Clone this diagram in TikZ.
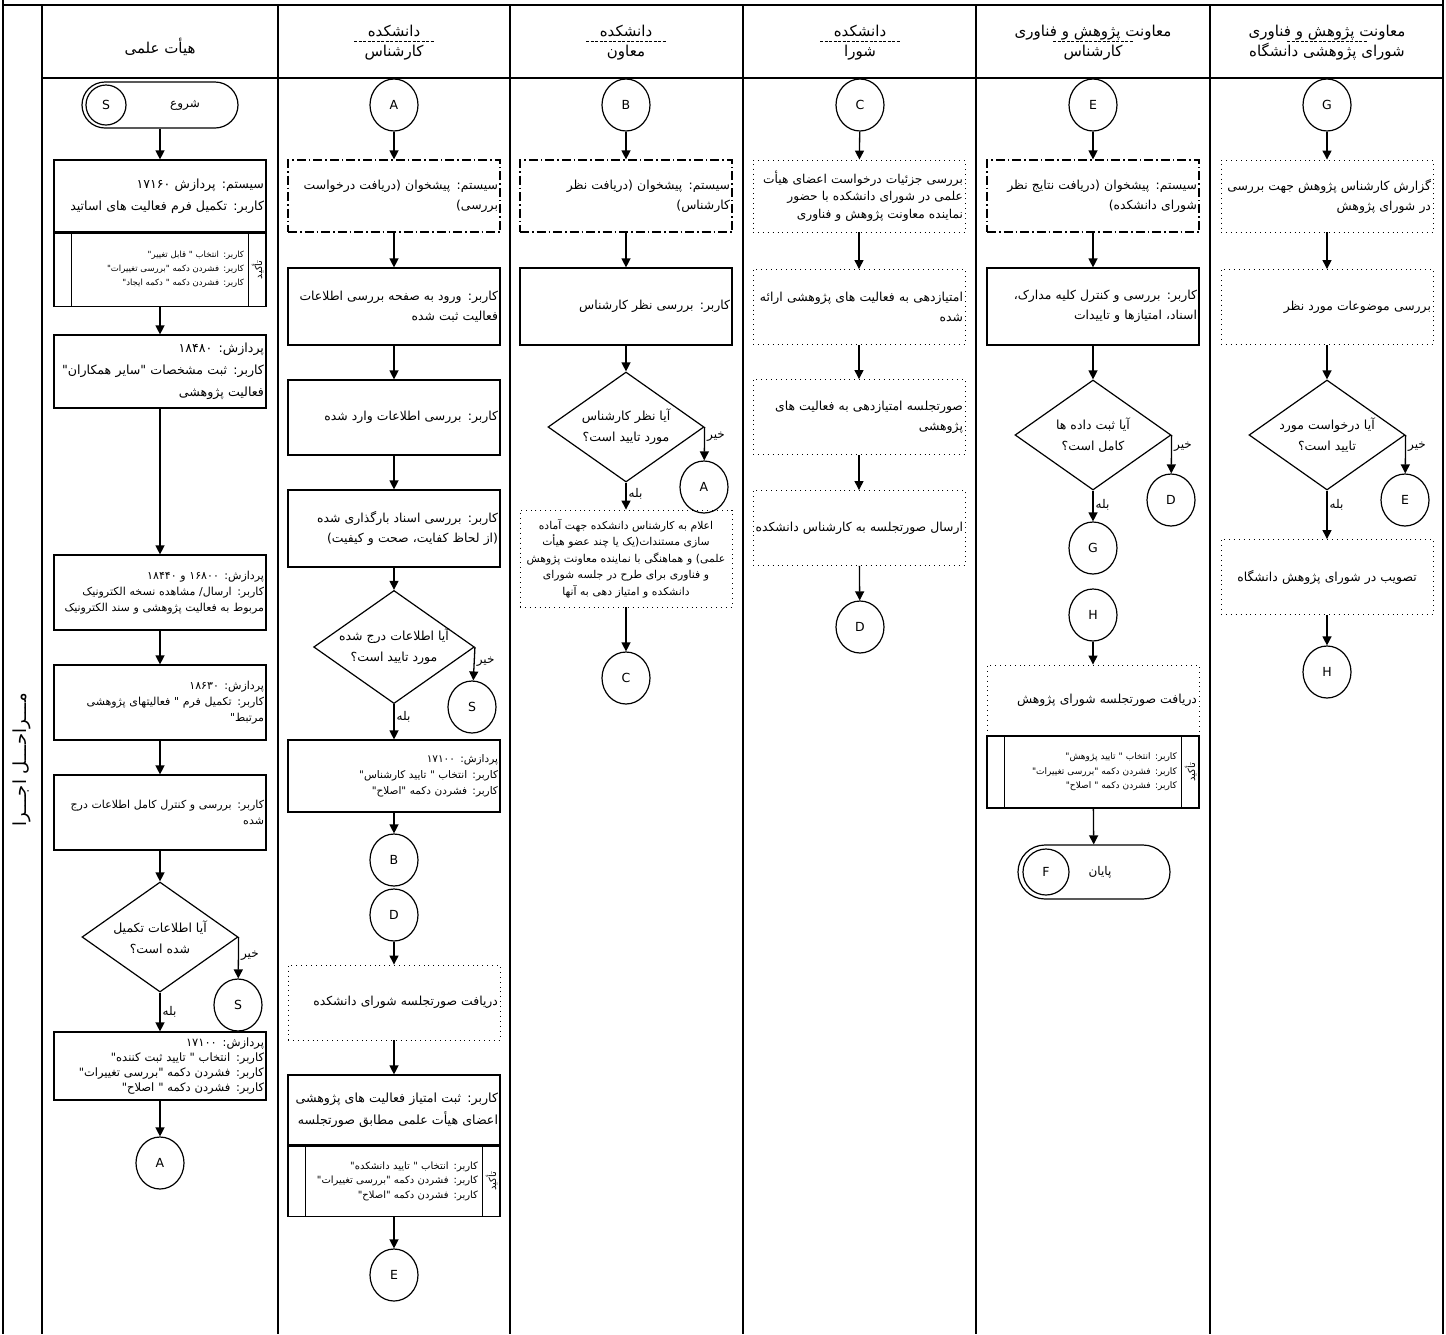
\documentclass[tikz,border=0pt]{standalone}
\usepackage{fontspec}
\setmainfont{DejaVu Sans}
\newfontfamily\fafont[Script=Arabic]{DejaVu Sans}
\TeXXeTstate=1
\usetikzlibrary{shapes.geometric,arrows.meta,positioning}

\newcommand{\fa}[1]{\beginR #1\endR}
\newcommand{\fsBig}{\fafont\fontsize{12.6}{22}\selectfont}
\newcommand{\fsMid}{\fafont\fontsize{12.4}{20}\selectfont}
\newcommand{\fsSmall}{\fafont\fontsize{11}{16}\selectfont}
\newcommand{\fsTiny}{\fafont\fontsize{9}{14.5}\selectfont}

\tikzset{
    lane/.style={line width=1.4pt},
    box/.style={rectangle, draw, line width=1.2pt, minimum width=212pt, text width=208pt, align=right, inner sep=2pt, font=\fsMid},
    sysbox/.style={box, dash pattern=on 9pt off 3pt on 1.5pt off 3pt},
    note/.style={box, line width=0.9pt, dash pattern=on 0.9pt off 4pt},
    taskbox/.style={box, text width=168pt, font=\fsTiny},
    decision/.style={diamond, draw, line width=1.2pt, aspect=1.42, inner sep=0pt, minimum width=156pt, minimum height=110pt, align=center, font=\fafont\fontsize{12.5}{21}\selectfont},
    conn/.style={ellipse, draw, line width=1.2pt, minimum width=48pt, minimum height=52pt, inner sep=0pt, font=\fontsize{12.5}{14}\selectfont},
    term/.style={rectangle, rounded corners=23pt, draw, line width=1.2pt, minimum width=156pt, minimum height=46pt},
    termc/.style={circle, draw, line width=1.2pt, minimum size=40pt, inner sep=0pt, font=\fontsize{12.5}{14}\selectfont},
    flow/.style={-{Triangle[length=9pt,width=9pt]}, line width=1.3pt},
    yesno/.style={font=\fafont\fontsize{12}{14}\selectfont, inner sep=2pt},
    emph/.style={font=\fafont\fontsize{10}{12}\selectfont, inner sep=0pt, rotate=90},
    head/.style={align=center, font=\fafont\fontsize{15}{20}\selectfont},
}
\newcommand{\taskcols}[1]{%
    \draw[line width=1.2pt] ([xshift=18pt]#1.north west) -- ([xshift=18pt]#1.south west);
    \draw[line width=1.2pt] ([xshift=-18pt]#1.north east) -- ([xshift=-18pt]#1.south east);
    \node[emph] (#1e) at ([xshift=-9pt]#1.east) {\fa{تأکید}};}

\begin{document}
\begin{tikzpicture}[x=1pt, y=-1pt]
    \useasboundingbox (0,0) rectangle (1446,1334);

    % Frame and lanes
    \foreach \x in {3,1443} {
        \draw[lane] (\x,0) -- (\x,1334);
    }
    \foreach \x in {42,278,510,743,976,1210} {
        \draw[lane] (\x,5) -- (\x,1334);
    }
    \draw[lane] (3,5) -- (1443,5);
    \draw[lane] (42,78) -- (1443,78);
    \node[rotate=90, font=\fafont\fontsize{18}{20}\selectfont] (steps) at (22,760) {\fa{مـــراحـــل اجـــرا}};

    % Headers
    \node[head] (h1) at (160,47) {\fa{هیأت علمی}};
    \node[head] (h2) at (394,43) {\fa{دانشکده}\\\fa{کارشناس}};
    \node[head] (h3) at (626,43) {\fa{دانشکده}\\\fa{معاون}};
    \node[head] (h4) at (860,43) {\fa{دانشکده}\\\fa{شورا}};
    \node[head] (h5) at (1093,43) {\fa{معاونت پژوهش و فناوری}\\\fa{کارشناس}};
    \node[head] (h6) at (1327,43) {\fa{معاونت پژوهش و فناوری}\\\fa{شورای پژوهشی دانشگاه}};
    \foreach \x in {394,626,860,1093,1327} {
        \draw[line width=0.6pt, dash pattern=on 3pt off 1.5pt] (\x-40,41) -- (\x+40,41);
    }

    % Lane 1
    \node[term] (st) at (160,105) {};
    \node[termc] (stc) at (106,105) {S};
    \node[font=\fafont\fontsize{12}{14}\selectfont] (stt) at (185,105) {\fa{شروع}};
    \node[box, font=\fsBig, minimum height=72pt] (p1) at (160,196) {\fa{سیستم: پردازش ۱۷۱۶۰}\\\fa{کاربر: تکمیل فرم فعالیت های اساتید}};
    \node[taskbox, font=\fafont\fontsize{8.5}{14}\selectfont, minimum height=73pt, anchor=north] (p1t) at (p1.south) {\fa{کاربر: انتخاب " قابل تغییر"}\\\fa{کاربر: فشردن دکمه "بررسی تغییرات"}\\\fa{کاربر: فشردن دکمه " دکمه ایجاد"}};
    \taskcols{p1t}
    \node[box, font=\fsBig, minimum height=73pt] (p2) at (160,371.5) {\fa{پردازش: ۱۸۴۸۰}\\\fa{کاربر: ثبت مشخصات "سایر همکاران"}\\\fa{فعالیت پژوهشی}};
    \node[box, font=\fsSmall, minimum height=75pt] (p3) at (160,592.5) {\fa{پردازش: ۱۶۸۰۰ و ۱۸۴۴۰}\\\fa{کاربر: ارسال/ مشاهده نسخه الکترونیک}\\\fa{مربوط به فعالیت پژوهشی و سند الکترونیک}};
    \node[box, font=\fsSmall, minimum height=75pt] (p4) at (160,702.5) {\fa{پردازش: ۱۸۶۳۰}\\\fa{کاربر: تکمیل فرم " فعالیتهای پژوهشی}\\\fa{مرتبط"}};
    \node[box, font=\fsSmall, minimum height=75pt] (p5) at (160,812.5) {\fa{کاربر: بررسی و کنترل کامل اطلاعات درج}\\\fa{شده}};
    \node[decision] (d1) at (160,937) {\fa{آیا اطلاعات تکمیل}\\\fa{شده است؟}};
    \node[conn] (s2) at (238,1005) {S};
    \node[box, font=\fafont\fontsize{11.5}{15}\selectfont, minimum height=68pt] (p6) at (160,1066) {\fa{پردازش: ۱۷۱۰۰}\\\fa{کاربر: انتخاب " تایید ثبت کننده"}\\\fa{کاربر: فشردن دکمه "بررسی تغییرات"}\\\fa{کاربر: فشردن دکمه " اصلاح"}};
    \node[conn] (a1) at (160,1163) {A};
    \draw[flow] (st) -- (p1);
    \draw[flow] (p1t) -- (p2);
    \draw[flow] (p2) -- (p3);
    \draw[flow] (p3) -- (p4);
    \draw[flow] (p4) -- (p5);
    \draw[flow] (p5) -- (d1);
    \draw[flow] (d1.east) -- (s2) node[yesno, pos=0.45, right] (n1) {\fa{خیر}};
    \draw[flow] (d1) -- (p6) node[yesno, pos=0.5, right] (y1) {\fa{بله}};
    \draw[flow] (p6) -- (a1);

    % Lane 2
    \node[conn] (a2) at (394,105) {A};
    \node[sysbox, minimum height=72pt] (k1) at (394,196) {\fa{سیستم: پیشخوان (دریافت درخواست}\\\fa{بررسی)}};
    \node[box, minimum height=77pt] (k2) at (394,306.5) {\fa{کاربر: ورود به صفحه بررسی اطلاعات}\\\fa{فعالیت ثبت شده}};
    \node[box, minimum height=75pt] (k3) at (394,417.5) {\fa{کاربر: بررسی اطلاعات وارد شده}};
    \node[box, minimum height=77pt] (k4) at (394,528.5) {\fa{کاربر: بررسی اسناد بارگذاری شده}\\\fa{(از لحاظ کفایت، صحت و کیفیت)}};
    \node[decision] (d2) at (394,647) {\fa{آیا اطلاعات درج شده}\\\fa{مورد تایید است؟}};
    \node[conn] (s3) at (472,707) {S};
    \node[box, font=\fafont\fontsize{10.5}{16}\selectfont, minimum height=72pt] (k5) at (394,776) {\fa{پردازش: ۱۷۱۰۰}\\\fa{کاربر: انتخاب " تایید کارشناس"}\\\fa{کاربر: فشردن دکمه "اصلاح"}};
    \node[conn] (b1) at (394,860) {B};
    \node[conn] (dd1) at (394,915) {D};
    \node[note, minimum height=75pt] (k6) at (394,1002.5) {\fa{دریافت صورتجلسه شورای دانشکده}};
    \node[box, font=\fsBig, minimum height=70pt] (k7) at (394,1110) {\fa{کاربر: ثبت امتیاز فعالیت های پژوهشی}\\\fa{اعضای هیأت علمی مطابق صورتجلسه}};
    \node[taskbox, font=\fafont\fontsize{10}{14.5}\selectfont, minimum height=70pt, anchor=north] (k7t) at (k7.south) {\fa{کاربر: انتخاب " تایید دانشکده"}\\\fa{کاربر: فشردن دکمه "بررسی تغییرات"}\\\fa{کاربر: فشردن دکمه "اصلاح"}};
    \taskcols{k7t}
    \node[conn] (e1) at (394,1275) {E};
    \draw[flow] (a2) -- (k1);
    \draw[flow] (k1) -- (k2);
    \draw[flow] (k2) -- (k3);
    \draw[flow] (k3) -- (k4);
    \draw[flow] (k4) -- (d2);
    \draw[flow] (d2.east) -- (s3) node[yesno, pos=0.45, right] (n2) {\fa{خیر}};
    \draw[flow] (d2) -- (k5) node[yesno, pos=0.35, right] (y2) {\fa{بله}};
    \draw[flow] (k5) -- (b1);
    \draw[flow] (dd1) -- (k6);
    \draw[flow] (k6) -- (k7);
    \draw[flow] (k7t) -- (e1);

    % Lane 3
    \node[conn] (b2) at (626,105) {B};
    \node[sysbox, minimum height=72pt] (m1) at (626,196) {\fa{سیستم: پیشخوان (دریافت نظر}\\\fa{کارشناس)}};
    \node[box, minimum height=77pt] (m2) at (626,306.5) {\fa{کاربر: بررسی نظر کارشناس}};
    \node[decision] (d3) at (626,427) {\fa{آیا نظر کارشناس}\\\fa{مورد تایید است؟}};
    \node[conn] (a3) at (704,487) {A};
    \node[note, align=center, font=\fafont\fontsize{10.8}{16.5}\selectfont, minimum height=97pt] (m3) at (626,558.5) {\fa{اعلام به کارشناس دانشکده جهت آماده}\\\fa{سازی مستندات(یک یا چند عضو هیأت}\\\fa{علمی) و هماهنگی با نماینده معاونت پژوهش}\\\fa{و فناوری برای طرح در جلسه شورای}\\\fa{دانشکده و امتیاز دهی به آنها}};
    \node[conn] (c1) at (626,678) {C};
    \draw[flow] (b2) -- (m1);
    \draw[flow] (m1) -- (m2);
    \draw[flow] (m2) -- (d3);
    \draw[flow] (d3.east) -- (a3) node[yesno, pos=0.3, right] (n3) {\fa{خیر}};
    \draw[flow] (d3) -- (m3) node[yesno, pos=0.4, right] (y3) {\fa{بله}};
    \draw[flow] (m3) -- (c1);

    % Lane 4
    \node[conn] (c2) at (860,105) {C};
    \node[note, font=\fafont\fontsize{12.2}{17.5}\selectfont, minimum height=72pt] (r1) at (859,196) {\fa{بررسی جزئیات درخواست اعضای هیأت}\\\fa{علمی در شورای دانشکده با حضور}\\\fa{نماینده معاونت پژوهش و فناوری}};
    \node[note, minimum height=75pt] (r2) at (859,307) {\fa{امتیازدهی به فعالیت های پژوهشی ارائه}\\\fa{شده}};
    \node[note, minimum height=75pt] (r3) at (859,417) {\fa{صورتجلسه امتیازدهی به فعالیت های}\\\fa{پژوهشی}};
    \node[note, minimum height=75pt] (r4) at (859,528) {\fa{ارسال صورتجلسه به کارشناس دانشکده}};
    \node[conn] (dd2) at (860,627) {D};
    \draw[flow] (c2) -- (r1);
    \draw[flow] (r1) -- (r2);
    \draw[flow] (r2) -- (r3);
    \draw[flow] (r3) -- (r4);
    \draw[flow] (r4) -- (dd2);

    % Lane 5
    \node[conn] (e2) at (1093,105) {E};
    \node[sysbox, minimum height=72pt] (v1) at (1093,196) {\fa{سیستم: پیشخوان (دریافت نتایج نظر}\\\fa{شورای دانشکده)}};
    \node[box, minimum height=77pt] (v2) at (1093,306.5) {\fa{کاربر: بررسی و کنترل کلیه مدارک،}\\\fa{اسناد، امتیازها و تاییدات}};
    \node[decision] (d4) at (1093,435) {\fa{آیا ثبت داده ها}\\\fa{کامل است؟}};
    \node[conn] (dd3) at (1171,500) {D};
    \node[conn] (g1) at (1093,548) {G};
    \node[conn] (h7) at (1093,615) {H};
    \node[note, minimum height=70pt] (v3) at (1093,700) {\fa{دریافت صورتجلسه شورای پژوهش}};
    \node[taskbox, minimum height=72pt, anchor=north] (v3t) at (v3.south) {\fa{کاربر: انتخاب " تایید پژوهش"}\\\fa{کاربر: فشردن دکمه "بررسی تغییرات"}\\\fa{کاربر: فشردن دکمه " اصلاح"}};
    \taskcols{v3t}
    \node[term, rounded corners=27pt, minimum width=152pt, minimum height=54pt] (en) at (1094,872) {};
    \node[termc, minimum size=46pt] (enc) at (1046,872) {F};
    \node[font=\fafont\fontsize{12}{14}\selectfont] (ent) at (1100,872) {\fa{پایان}};
    \draw[flow] (e2) -- (v1);
    \draw[flow] (v1) -- (v2);
    \draw[flow] (v2) -- (d4);
    \draw[flow] (d4.east) -- (dd3) node[yesno, pos=0.3, right] (n4) {\fa{خیر}};
    \draw[flow] (d4) -- (g1) node[yesno, pos=0.45, right] (y4) {\fa{بله}};
    \draw[flow] (h7) -- (v3);
    \draw[flow] (v3t) -- (en);

    % Lane 6
    \node[conn] (g2) at (1327,105) {G};
    \node[note, minimum height=72pt] (u1) at (1327,196) {\fa{گزارش کارشناس پژوهش جهت بررسی}\\\fa{در شورای پژوهش}};
    \node[note, minimum height=75pt] (u2) at (1327,307) {\fa{بررسی موضوعات مورد نظر}};
    \node[decision] (d5) at (1327,435) {\fa{آیا درخواست مورد}\\\fa{تایید است؟}};
    \node[conn] (e3) at (1405,500) {E};
    \node[note, align=center, minimum height=75pt] (u3) at (1327,577) {\fa{تصویب در شورای پژوهش دانشگاه}};
    \node[conn] (h8) at (1327,672) {H};
    \draw[flow] (g2) -- (u1);
    \draw[flow] (u1) -- (u2);
    \draw[flow] (u2) -- (d5);
    \draw[flow] (d5.east) -- (e3) node[yesno, pos=0.3, right] (n5) {\fa{خیر}};
    \draw[flow] (d5) -- (u3) node[yesno, pos=0.3, right] (y5) {\fa{بله}};
    \draw[flow] (u3) -- (h8);
\end{tikzpicture}
\end{document}
